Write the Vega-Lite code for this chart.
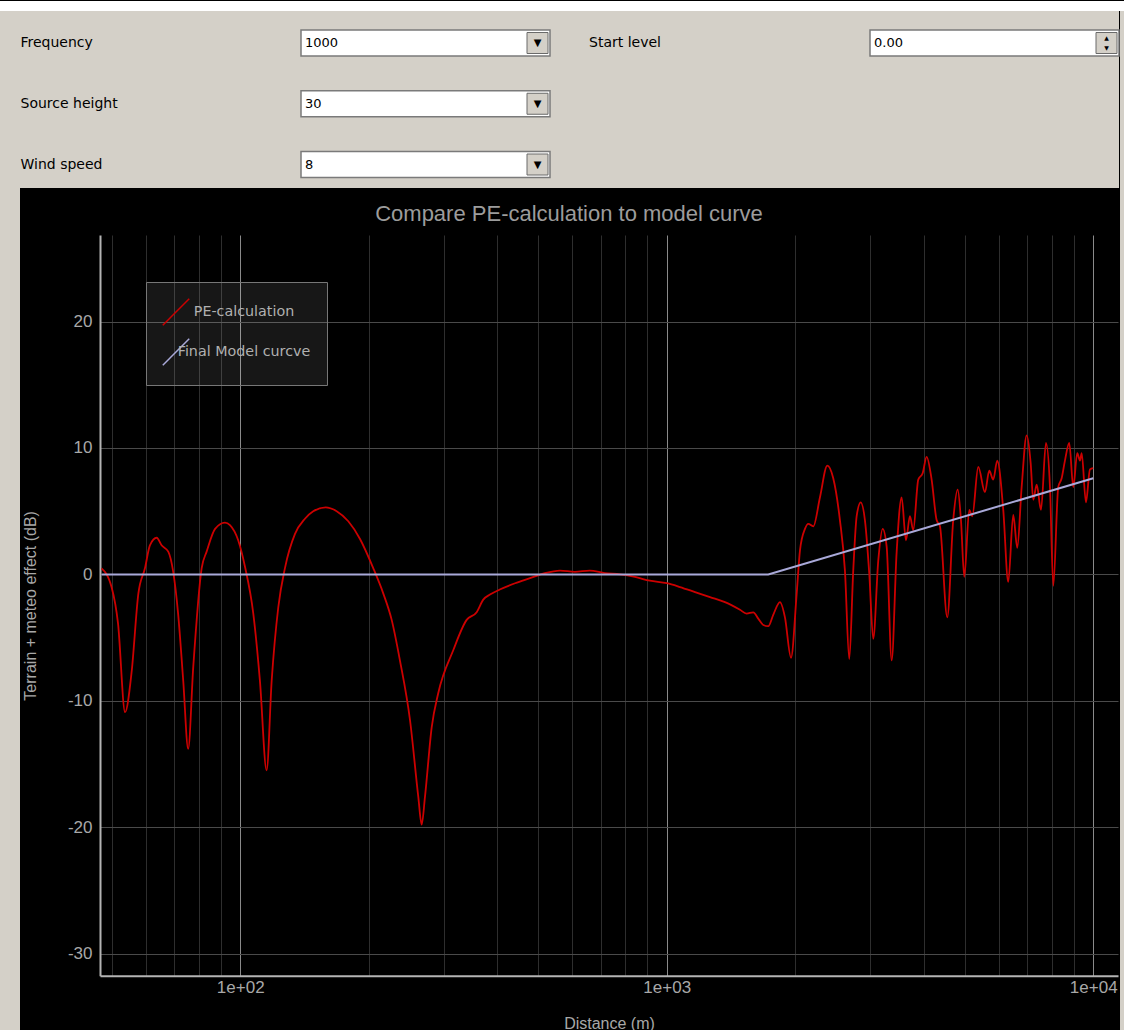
{
  "$schema": "https://vega.github.io/schema/vega-lite/v6.json",
  "background": "black",
  "padding": 0,
  "config": {"view": {"stroke": null}, "concat": {"spacing": 0}},
  "spacing": 0,
  "resolve": {"scale": {"color": "independent"}, "legend": {"color": "independent"}},
  "vconcat": [
    {
      "width": 1124, "height": 10,
      "view": {"fill": "white", "stroke": null},
      "data": {"values": [{"k": 1}]},
      "mark": {"type": "text"},
      "encoding": {"text": {"value": ""}}
    },
    {
      "spacing": 0,
      "resolve": {"scale": {"color": "independent"}, "legend": {"color": "independent"}},
      "hconcat": [
        {
          "width": 20, "height": 1020,
          "view": {"fill": "#d4d0c8", "stroke": null},
          "data": {"values": [{"k": 1}]},
          "mark": {"type": "text"},
          "encoding": {"text": {"value": ""}}
        },
        {
          "spacing": 15,
          "resolve": {"scale": {"color": "independent"}, "legend": {"color": "independent"}},
          "vconcat": [
            {
              "width": 1099, "height": 177,
              "view": {"fill": "#d4d0c8", "stroke": null},
              "data": {"values": [
                {"control": "Frequency", "value": "1000", "col": "left", "row": 1, "widget": "combo"},
                {"control": "Source height", "value": "30", "col": "left", "row": 2, "widget": "combo"},
                {"control": "Wind speed", "value": "8", "col": "left", "row": 3, "widget": "combo"},
                {"control": "Start level", "value": "0.00", "col": "right", "row": 1, "widget": "spin"}
              ]},
              "resolve": {"scale": {"x": "independent", "y": "independent"}},
              "layer": [
                {
                  "mark": {"type": "rect", "fill": "white", "stroke": "#7a7a7a", "strokeWidth": 1.5},
                  "encoding": {
                    "x": {"field": "col", "type": "nominal", "axis": null, "scale": {"type": "band", "domain": ["left", "right"], "range": [281, 1099], "paddingInner": 0.5624, "paddingOuter": 0, "align": 0}},
                    "y": {"field": "row", "type": "ordinal", "axis": null, "scale": {"type": "band", "domain": [1, 2, 3], "range": [19, 166.5], "paddingInner": 0.572, "paddingOuter": 0, "align": 0}}
                  }
                },
                {
                  "mark": {"type": "square", "size": 441, "filled": true, "fill": "#d4d0c8", "stroke": "#6a6a6a", "strokeWidth": 1, "opacity": 1},
                  "encoding": {
                    "x": {"field": "col", "type": "nominal", "axis": null, "scale": {"type": "point", "domain": ["left", "right"], "range": [517.5, 1086.5], "padding": 0}},
                    "y": {"field": "row", "type": "ordinal", "axis": null, "scale": {"type": "point", "domain": [1, 2, 3], "range": [32, 153.5], "padding": 0}}
                  }
                },
                {
                  "transform": [{"filter": "datum.widget === 'combo'"}],
                  "mark": {"type": "text", "text": "▼", "font": "DejaVu Sans", "fontSize": 10, "color": "black", "baseline": "middle", "align": "center"},
                  "encoding": {
                    "x": {"field": "col", "type": "nominal", "axis": null, "scale": {"type": "point", "domain": ["left", "right"], "range": [517.5, 1086.5], "padding": 0}},
                    "y": {"field": "row", "type": "ordinal", "axis": null, "scale": {"type": "point", "domain": [1, 2, 3], "range": [32, 153.5], "padding": 0}}
                  }
                },
                {
                  "transform": [{"filter": "datum.widget === 'spin'"}],
                  "mark": {"type": "text", "text": "▲", "font": "DejaVu Sans", "fontSize": 6, "color": "black", "baseline": "middle", "align": "center", "dy": -5},
                  "encoding": {
                    "x": {"field": "col", "type": "nominal", "axis": null, "scale": {"type": "point", "domain": ["left", "right"], "range": [517.5, 1086.5], "padding": 0}},
                    "y": {"field": "row", "type": "ordinal", "axis": null, "scale": {"type": "point", "domain": [1, 2, 3], "range": [32, 153.5], "padding": 0}}
                  }
                },
                {
                  "transform": [{"filter": "datum.widget === 'spin'"}],
                  "mark": {"type": "text", "text": "▼", "font": "DejaVu Sans", "fontSize": 6, "color": "black", "baseline": "middle", "align": "center", "dy": 5},
                  "encoding": {
                    "x": {"field": "col", "type": "nominal", "axis": null, "scale": {"type": "point", "domain": ["left", "right"], "range": [517.5, 1086.5], "padding": 0}},
                    "y": {"field": "row", "type": "ordinal", "axis": null, "scale": {"type": "point", "domain": [1, 2, 3], "range": [32, 153.5], "padding": 0}}
                  }
                },
                {
                  "mark": {"type": "text", "font": "DejaVu Sans", "fontSize": 14, "color": "black", "baseline": "middle", "align": "left"},
                  "encoding": {
                    "x": {"field": "col", "type": "nominal", "axis": null, "scale": {"type": "point", "domain": ["left", "right"], "range": [0.5, 569], "padding": 0}},
                    "y": {"field": "row", "type": "ordinal", "axis": null, "scale": {"type": "point", "domain": [1, 2, 3], "range": [32, 153.5], "padding": 0}},
                    "text": {"field": "control"}
                  }
                },
                {
                  "mark": {"type": "text", "font": "DejaVu Sans", "fontSize": 13, "color": "black", "baseline": "middle", "align": "left"},
                  "encoding": {
                    "x": {"field": "col", "type": "nominal", "axis": null, "scale": {"type": "point", "domain": ["left", "right"], "range": [285, 854], "padding": 0}},
                    "y": {"field": "row", "type": "ordinal", "axis": null, "scale": {"type": "point", "domain": [1, 2, 3], "range": [32, 153.5], "padding": 0}},
                    "text": {"field": "value"}
                  }
                }
              ]
            },
            {
              "width": 1098, "height": 740.7,
              "title": {"text": "Compare PE-calculation to model curve", "font": "Liberation Sans", "fontSize": 22, "fontWeight": "normal", "color": "#9c9c9c", "anchor": "middle", "baseline": "alphabetic", "offset": -8},
              "data": {"values": [
                {"series": "PE-calculation", "distance": 47.3, "level": 0.47},
                {"series": "PE-calculation", "distance": 49.9, "level": -0.98},
                {"series": "PE-calculation", "distance": 51.7, "level": -3.9},
                {"series": "PE-calculation", "distance": 53.7, "level": -10.9},
                {"series": "PE-calculation", "distance": 55.6, "level": -7.8},
                {"series": "PE-calculation", "distance": 57.7, "level": -1.5},
                {"series": "PE-calculation", "distance": 59.8, "level": 0.5},
                {"series": "PE-calculation", "distance": 61.4, "level": 2.3},
                {"series": "PE-calculation", "distance": 63.7, "level": 2.9},
                {"series": "PE-calculation", "distance": 65.4, "level": 2.3},
                {"series": "PE-calculation", "distance": 67.8, "level": 1.8},
                {"series": "PE-calculation", "distance": 71.5, "level": -3.1},
                {"series": "PE-calculation", "distance": 73.5, "level": -8.4},
                {"series": "PE-calculation", "distance": 75.5, "level": -13.8},
                {"series": "PE-calculation", "distance": 77.6, "level": -7.3},
                {"series": "PE-calculation", "distance": 81.2, "level": 0.5},
                {"series": "PE-calculation", "distance": 83.4, "level": 1.8},
                {"series": "PE-calculation", "distance": 87.3, "level": 3.6},
                {"series": "PE-calculation", "distance": 92.1, "level": 4.1},
                {"series": "PE-calculation", "distance": 94.6, "level": 3.9},
                {"series": "PE-calculation", "distance": 98.9, "level": 2.7},
                {"series": "PE-calculation", "distance": 102.6, "level": 0.6},
                {"series": "PE-calculation", "distance": 107.3, "level": -3.1},
                {"series": "PE-calculation", "distance": 111.2, "level": -8.4},
                {"series": "PE-calculation", "distance": 115.3, "level": -15.5},
                {"series": "PE-calculation", "distance": 118.5, "level": -8.4},
                {"series": "PE-calculation", "distance": 122.8, "level": -2.6},
                {"series": "PE-calculation", "distance": 127.3, "level": 0.5},
                {"series": "PE-calculation", "distance": 134.4, "level": 3.2},
                {"series": "PE-calculation", "distance": 141.8, "level": 4.4},
                {"series": "PE-calculation", "distance": 148.3, "level": 5.0},
                {"series": "PE-calculation", "distance": 158.6, "level": 5.3},
                {"series": "PE-calculation", "distance": 168.3, "level": 5.0},
                {"series": "PE-calculation", "distance": 179.2, "level": 4.2},
                {"series": "PE-calculation", "distance": 190.9, "level": 2.8},
                {"series": "PE-calculation", "distance": 205.0, "level": 0.5},
                {"series": "PE-calculation", "distance": 216.4, "level": -1.5},
                {"series": "PE-calculation", "distance": 226.5, "level": -3.6},
                {"series": "PE-calculation", "distance": 236.8, "level": -6.8},
                {"series": "PE-calculation", "distance": 250.0, "level": -11.5},
                {"series": "PE-calculation", "distance": 261.5, "level": -17.6},
                {"series": "PE-calculation", "distance": 266.3, "level": -19.8},
                {"series": "PE-calculation", "distance": 271.1, "level": -17.6},
                {"series": "PE-calculation", "distance": 281.1, "level": -12.1},
                {"series": "PE-calculation", "distance": 291.2, "level": -9.4},
                {"series": "PE-calculation", "distance": 315.8, "level": -6.0},
                {"series": "PE-calculation", "distance": 339.5, "level": -3.6},
                {"series": "PE-calculation", "distance": 358.4, "level": -3.0},
                {"series": "PE-calculation", "distance": 371.4, "level": -2.0},
                {"series": "PE-calculation", "distance": 385.1, "level": -1.6},
                {"series": "PE-calculation", "distance": 406, "level": -1.2},
                {"series": "PE-calculation", "distance": 441, "level": -0.7},
                {"series": "PE-calculation", "distance": 478, "level": -0.3},
                {"series": "PE-calculation", "distance": 518, "level": 0.1},
                {"series": "PE-calculation", "distance": 562, "level": 0.3},
                {"series": "PE-calculation", "distance": 609, "level": 0.2},
                {"series": "PE-calculation", "distance": 660, "level": 0.3},
                {"series": "PE-calculation", "distance": 716, "level": 0.1},
                {"series": "PE-calculation", "distance": 777, "level": 0.0},
                {"series": "PE-calculation", "distance": 842, "level": -0.2},
                {"series": "PE-calculation", "distance": 913, "level": -0.5},
                {"series": "PE-calculation", "distance": 1001, "level": -0.7},
                {"series": "PE-calculation", "distance": 1074, "level": -1.0},
                {"series": "PE-calculation", "distance": 1165, "level": -1.4},
                {"series": "PE-calculation", "distance": 1263, "level": -1.8},
                {"series": "PE-calculation", "distance": 1369, "level": -2.2},
                {"series": "PE-calculation", "distance": 1485, "level": -2.8},
                {"series": "PE-calculation", "distance": 1539, "level": -3.1},
                {"series": "PE-calculation", "distance": 1595, "level": -3.0},
                {"series": "PE-calculation", "distance": 1639, "level": -3.5},
                {"series": "PE-calculation", "distance": 1684, "level": -4.0},
                {"series": "PE-calculation", "distance": 1730, "level": -4.1},
                {"series": "PE-calculation", "distance": 1777, "level": -3.2},
                {"series": "PE-calculation", "distance": 1843, "level": -2.2},
                {"series": "PE-calculation", "distance": 1893, "level": -3.4},
                {"series": "PE-calculation", "distance": 1956, "level": -6.6},
                {"series": "PE-calculation", "distance": 2017, "level": -1.5},
                {"series": "PE-calculation", "distance": 2053, "level": 1.9},
                {"series": "PE-calculation", "distance": 2109, "level": 3.6},
                {"series": "PE-calculation", "distance": 2147, "level": 4.0},
                {"series": "PE-calculation", "distance": 2206, "level": 3.8},
                {"series": "PE-calculation", "distance": 2287, "level": 6.1},
                {"series": "PE-calculation", "distance": 2379, "level": 8.6},
                {"series": "PE-calculation", "distance": 2457, "level": 7.6},
                {"series": "PE-calculation", "distance": 2547, "level": 4.3},
                {"series": "PE-calculation", "distance": 2617, "level": 0.3},
                {"series": "PE-calculation", "distance": 2679, "level": -6.7},
                {"series": "PE-calculation", "distance": 2737, "level": 0.3},
                {"series": "PE-calculation", "distance": 2788, "level": 4.6},
                {"series": "PE-calculation", "distance": 2849, "level": 5.7},
                {"series": "PE-calculation", "distance": 2915, "level": 4.3},
                {"series": "PE-calculation", "distance": 2984, "level": 0.1},
                {"series": "PE-calculation", "distance": 3049, "level": -5.1},
                {"series": "PE-calculation", "distance": 3133, "level": 1.1},
                {"series": "PE-calculation", "distance": 3208, "level": 3.6},
                {"series": "PE-calculation", "distance": 3278, "level": 2.2},
                {"series": "PE-calculation", "distance": 3368, "level": -6.8},
                {"series": "PE-calculation", "distance": 3459, "level": 1.7},
                {"series": "PE-calculation", "distance": 3554, "level": 6.1},
                {"series": "PE-calculation", "distance": 3638, "level": 2.7},
                {"series": "PE-calculation", "distance": 3717, "level": 4.6},
                {"series": "PE-calculation", "distance": 3784, "level": 3.5},
                {"series": "PE-calculation", "distance": 3888, "level": 7.5},
                {"series": "PE-calculation", "distance": 3981, "level": 8.0},
                {"series": "PE-calculation", "distance": 4068, "level": 9.3},
                {"series": "PE-calculation", "distance": 4179, "level": 7.5},
                {"series": "PE-calculation", "distance": 4293, "level": 4.3},
                {"series": "PE-calculation", "distance": 4371, "level": 3.8},
                {"series": "PE-calculation", "distance": 4547, "level": -3.4},
                {"series": "PE-calculation", "distance": 4696, "level": 4.3},
                {"series": "PE-calculation", "distance": 4810, "level": 6.7},
                {"series": "PE-calculation", "distance": 4896, "level": 4.3},
                {"series": "PE-calculation", "distance": 4984, "level": -0.2},
                {"series": "PE-calculation", "distance": 5121, "level": 5.1},
                {"series": "PE-calculation", "distance": 5204, "level": 4.6},
                {"series": "PE-calculation", "distance": 5375, "level": 8.5},
                {"series": "PE-calculation", "distance": 5573, "level": 6.5},
                {"series": "PE-calculation", "distance": 5704, "level": 8.2},
                {"series": "PE-calculation", "distance": 5828, "level": 7.5},
                {"series": "PE-calculation", "distance": 5956, "level": 9.0},
                {"series": "PE-calculation", "distance": 6152, "level": 5.1},
                {"series": "PE-calculation", "distance": 6320, "level": -0.6},
                {"series": "PE-calculation", "distance": 6493, "level": 4.7},
                {"series": "PE-calculation", "distance": 6635, "level": 2.1},
                {"series": "PE-calculation", "distance": 6794, "level": 6.9},
                {"series": "PE-calculation", "distance": 6980, "level": 11.0},
                {"series": "PE-calculation", "distance": 7133, "level": 8.8},
                {"series": "PE-calculation", "distance": 7234, "level": 5.9},
                {"series": "PE-calculation", "distance": 7369, "level": 7.1},
                {"series": "PE-calculation", "distance": 7542, "level": 5.1},
                {"series": "PE-calculation", "distance": 7748, "level": 10.4},
                {"series": "PE-calculation", "distance": 7917, "level": 6.9},
                {"series": "PE-calculation", "distance": 8059, "level": -0.9},
                {"series": "PE-calculation", "distance": 8279, "level": 6.9},
                {"series": "PE-calculation", "distance": 8432, "level": 7.6},
                {"series": "PE-calculation", "distance": 8583, "level": 9.0},
                {"series": "PE-calculation", "distance": 8785, "level": 10.4},
                {"series": "PE-calculation", "distance": 8977, "level": 6.9},
                {"series": "PE-calculation", "distance": 9173, "level": 9.6},
                {"series": "PE-calculation", "distance": 9308, "level": 9.0},
                {"series": "PE-calculation", "distance": 9394, "level": 9.6},
                {"series": "PE-calculation", "distance": 9614, "level": 5.7},
                {"series": "PE-calculation", "distance": 9824, "level": 8.3},
                {"series": "PE-calculation", "distance": 10000, "level": 8.4},
                {"series": "Final Model curcve", "distance": 47.3, "level": 0},
                {"series": "Final Model curcve", "distance": 1730, "level": 0},
                {"series": "Final Model curcve", "distance": 10000, "level": 7.6}
              ]},
              "encoding": {
                "x": {
                  "field": "distance", "type": "quantitative", "title": "Distance (m)",
                  "scale": {"type": "log", "domain": [46.9, 11430], "nice": false, "range": [80, 1098]},
                  "axis": {
                    "values": [50, 60, 70, 80, 90, 100, 200, 300, 400, 500, 600, 700, 800, 900, 1000, 2000, 3000, 4000, 5000, 6000, 7000, 8000, 9000, 10000],
                    "labelExpr": "datum.value === 100 ? '1e+02' : datum.value === 1000 ? '1e+03' : datum.value === 10000 ? '1e+04' : ''",
                    "grid": true,
                    "gridColor": {"condition": {"test": "datum.value === 100 || datum.value === 1000 || datum.value === 10000", "value": "#8a8a8a"}, "value": "#2e2e2e"},
                    "ticks": false, "tickSize": 0,
                    "domainColor": "#b4b4b4", "domainWidth": 2,
                    "labelFont": "Liberation Sans", "labelFontSize": 17, "labelColor": "#a8a8a8", "labelPadding": 3.5,
                    "labelFlush": false, "labelOverlap": false,
                    "titleFont": "Liberation Sans", "titleFontSize": 16, "titleFontWeight": "normal", "titleColor": "#a8a8a8", "titlePadding": 20
                  }
                },
                "y": {
                  "field": "level", "type": "quantitative", "title": "Terrain + meteo effect (dB)",
                  "scale": {"domain": [-31.75, 26.85], "nice": false, "zero": false},
                  "axis": {
                    "values": [-30, -20, -10, 0, 10, 20],
                    "labelExpr": "'' + datum.value",
                    "offset": -80,
                    "grid": true, "gridColor": "#4a4a4a",
                    "ticks": false, "tickSize": 0,
                    "domainColor": "#b4b4b4", "domainWidth": 2,
                    "labelFont": "Liberation Sans", "labelFontSize": 17, "labelColor": "#a8a8a8", "labelPadding": 8,
                    "labelFlush": false, "labelOverlap": false,
                    "titleFont": "Liberation Sans", "titleFontSize": 16, "titleFontWeight": "normal", "titleColor": "#a8a8a8", "titlePadding": 28.5
                  }
                },
                "color": {
                  "field": "series", "type": "nominal",
                  "scale": {"domain": ["PE-calculation", "Final Model curcve"], "range": ["#cc0000", "#a9a9d9"]},
                  "legend": {
                    "title": null, "orient": "none", "legendX": 126, "legendY": 47,
                    "symbolType": "M-1,1L1,-1", "symbolSize": 700, "symbolStrokeWidth": 1.5,
                    "labelFont": "DejaVu Sans", "labelFontSize": 14.3, "labelColor": "#b0b0b0",
                    "labelAlign": "center", "labelOffset": 54, "labelLimit": 300,
                    "rowPadding": 6, "padding": 16,
                    "fillColor": "rgba(255,255,255,0.09)", "strokeColor": "#777777"
                  }
                }
              },
              "layer": [
                {
                  "transform": [{"filter": "datum.series === 'PE-calculation'"}],
                  "mark": {"type": "line", "strokeWidth": 1.8, "interpolate": "monotone", "clip": true}
                },
                {
                  "transform": [{"filter": "datum.series === 'Final Model curcve'"}],
                  "mark": {"type": "line", "strokeWidth": 2, "clip": true}
                }
              ]
            }
          ]
        },
        {
          "width": 5, "height": 1020,
          "view": {"fill": "#d4d0c8", "stroke": null},
          "data": {"values": [{"k": 1}]},
          "mark": {"type": "text"},
          "encoding": {"text": {"value": ""}}
        }
      ]
    }
  ]
}
